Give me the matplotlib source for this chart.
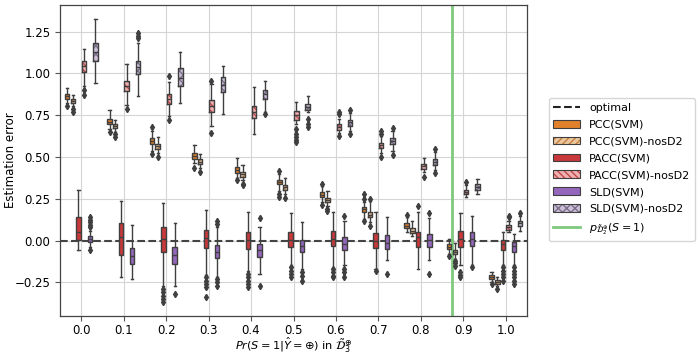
import numpy as np
import matplotlib
matplotlib.use('Agg')
import matplotlib.pyplot as plt
from matplotlib.patches import Patch
from matplotlib.lines import Line2D

x_labels = ['0.0', '0.1', '0.2', '0.3', '0.4', '0.5', '0.6', '0.7', '0.8', '0.9', '1.0']
series_names = ['PCC(SVM)', 'PCC(SVM)-nosD2', 'PACC(SVM)', 'PACC(SVM)-nosD2', 'SLD(SVM)', 'SLD(SVM)-nosD2']
p_true = 0.8735

# --- box statistics per series: median, q1, q3, whisker low, whisker high, fliers
pcc_med = [.863, .712, .595, .506, .423, .351, .274, .189, .089, -.036, -.218]
pcc_q1 = [.849, .699, .576, .490, .407, .338, .258, .173, .076, -.049, -.228]
pcc_q3 = [.877, .730, .613, .524, .440, .363, .288, .202, .105, -.020, -.208]
pcc_lo = [.826, .665, .536, .467, .377, .298, .228, .129, .050, -.079, -.248]
pcc_hi = [.913, .784, .655, .570, .496, .400, .327, .230, .143, .010, -.188]
pcc_fl = [[.807], [.649], [.679, .52], [.437], [.36], [.415, .28, .26], [.34, .21],
          [.278, .248, .12], [.155], [-.09], [-.26]]

pccn_med = [.836, .683, .565, .473, .397, .318, .242, .155, .060, -.067, -.250]
pccn_q1 = [.821, .671, .550, .458, .381, .302, .228, .139, .046, -.081, -.262]
pccn_q3 = [.849, .695, .581, .490, .411, .333, .254, .173, .074, -.054, -.238]
pccn_lo = [.804, .649, .522, .437, .360, .280, .208, .109, .030, -.109, -.270]
pccn_hi = [.873, .724, .619, .520, .450, .373, .298, .238, .119, -.014, -.220]
pccn_fl = [[.79, .77], [.635, .62], [.502], [.411], [.34, .33], [.255], [.19, .18],
           [.25, .09], [], [-.12, -.135, -.15], [-.29]]

pacc_med = [.054, .020, .010, .016, .004, .004, .010, .000, .020, .010, -.020]
pacc_q1 = [.004, -.089, -.069, -.045, -.049, -.036, -.033, -.045, -.039, -.036, -.055]
pacc_q3 = [.139, .104, .083, .065, .050, .050, .060, .044, .050, .060, .004]
pacc_lo = [-.055, -.218, -.270, -.204, -.184, -.150, -.163, -.173, -.169, -.149, -.149]
pacc_hi = [.304, .238, .222, .185, .173, .163, .173, .173, .173, .165, .050]
pacc_fl = [[], [], [-.29, -.31, -.33, -.35, -.367], [-.22, -.24, -.26, -.28, -.34],
           [-.20, -.22, -.24, -.26, -.28], [-.16, -.18, -.20, -.22], [-.17, -.19, -.21, -.22],
           [-.185], [.204], [-.19, -.205, -.22], [-.16, -.18, -.20, -.22, -.24]]

paccn_med = [1.042, .927, .848, .804, .770, .752, .679, .570, .446, .290, .081]
paccn_q1 = [1.008, .897, .818, .768, .735, .724, .661, .552, .430, .277, .065]
paccn_q3 = [1.076, .957, .879, .839, .808, .778, .695, .586, .461, .300, .093]
paccn_lo = [.927, .810, .744, .685, .635, .695, .645, .522, .410, .258, .050]
paccn_hi = [1.147, 1.056, .949, .935, .919, .830, .730, .625, .496, .330, .120]
paccn_fl = [[.90, .87], [.79], [.986, .72], [.953, .641], [], [.665, .64, .62, .60, .59],
            [.755, .77, .625], [.655, .64, .50], [.38], [.35], [.149, .139]]

sld_med = [.010, -.093, -.085, -.069, -.054, -.034, -.020, -.014, .004, .010, -.033]
sld_q1 = [-.006, -.143, -.143, -.105, -.097, -.069, -.054, -.049, -.039, -.033, -.069]
sld_q3 = [.026, -.045, -.036, -.026, -.018, .004, .020, .034, .040, .054, -.006]
sld_lo = [-.040, -.228, -.271, -.218, -.198, -.168, -.149, -.119, -.119, -.149, -.149]
sld_hi = [.060, .093, .104, .080, .083, .113, .119, .143, .133, .145, .040]
sld_fl = [[.08, .095, .11, .125, .139, -.055], [], [-.32], [.10, .115, -.23, -.25, -.27],
          [.133, -.27], [-.19, -.21, -.24], [.147, -.17, -.19, -.22], [-.198],
          [.163, -.198], [-.16], [-.16, -.18, -.20, -.22, -.24, -.26]]

sldn_med = [1.127, 1.036, .973, .933, .875, .800, .707, .598, .473, .321, .105]
sldn_q1 = [1.076, .996, .923, .887, .848, .784, .688, .580, .455, .304, .089]
sldn_q3 = [1.181, 1.077, 1.032, .979, .903, .818, .724, .615, .490, .337, .119]
sldn_lo = [.943, .867, .824, .758, .770, .770, .655, .536, .420, .278, .060]
sldn_hi = [1.326, 1.185, 1.127, 1.042, .957, .863, .764, .655, .530, .371, .149]
sldn_fl = [[], [1.21, 1.225, 1.24], [], [], [.755], [.73, .70, .68], [.78, .64],
           [.675, .515], [.546, .405], [], [.165]]

series_stats = [
    (pcc_med, pcc_q1, pcc_q3, pcc_lo, pcc_hi, pcc_fl),
    (pccn_med, pccn_q1, pccn_q3, pccn_lo, pccn_hi, pccn_fl),
    (pacc_med, pacc_q1, pacc_q3, pacc_lo, pacc_hi, pacc_fl),
    (paccn_med, paccn_q1, paccn_q3, paccn_lo, paccn_hi, paccn_fl),
    (sld_med, sld_q1, sld_q3, sld_lo, sld_hi, sld_fl),
    (sldn_med, sldn_q1, sldn_q3, sldn_lo, sldn_hi, sldn_fl),
]

main_colors = ['#e1812c', '#e1812c', '#c9383a', '#c9383a', '#9467bd', '#9467bd']
light_colors = [None, '#ebc79f', None, '#eeb0b0', None, '#cdbfdb']
hatch_colors = [None, '#c6803f', None, '#c0474a', None, '#7a7085']
hatches = [None, '/////', None, '\\\\\\\\\\', None, 'xxxx']

edge = '#3f3f3f'
plt.rcParams['hatch.linewidth'] = 1.0

fig = plt.figure(figsize=(6.98, 3.56), dpi=100)
ax = fig.add_axes([0.086, 0.113, 0.669, 0.873])

n = len(series_names)
step = 0.8 / n
bw = 0.105
xs = np.arange(len(x_labels))

for i, (med, q1, q3, lo, hi, fl) in enumerate(series_stats):
    pos = xs + (i - (n - 1) / 2) * step
    stats = [dict(med=med[k], q1=q1[k], q3=q3[k], whislo=lo[k], whishi=hi[k],
                  fliers=fl[k]) for k in range(len(x_labels))]
    common = dict(positions=pos, widths=bw, capwidths=bw * 0.5, manage_ticks=False,
                  whiskerprops=dict(color=edge, lw=1.0),
                  capprops=dict(color=edge, lw=1.0),
                  medianprops=dict(color=edge, lw=1.0),
                  flierprops=dict(marker='d', markerfacecolor=edge, markeredgecolor=edge,
                                  markersize=3.2))
    if hatches[i] is None:
        ax.bxp(stats, patch_artist=True,
               boxprops=dict(facecolor=main_colors[i], edgecolor=edge, lw=1.0),
               zorder=3, **common)
    else:
        ax.bxp(stats, patch_artist=True, showcaps=False, showfliers=False,
               positions=pos, widths=bw, manage_ticks=False,
               boxprops=dict(facecolor=light_colors[i], edgecolor=hatch_colors[i],
                             lw=0, hatch=hatches[i]),
               whiskerprops=dict(lw=0), medianprops=dict(lw=0), zorder=3)
        ax.bxp(stats, patch_artist=False,
               boxprops=dict(color=edge, lw=1.0), zorder=3.1, **common)

ax.axhline(0, color='#444444', ls='--', lw=1.5, zorder=2)
ax.axvline(p_true * 10, color='#7fc97f', lw=2.0, zorder=2)

ax.set_xlim(-0.5, len(x_labels) - 0.5)
ax.set_ylim(-0.45, 1.41)
ax.set_xticks(xs)
ax.set_xticklabels(x_labels)
ax.set_yticks([-0.25, 0.0, 0.25, 0.5, 0.75, 1.0, 1.25])
ax.tick_params(labelsize=8.5, color='#555555', length=3.5)
ax.tick_params(axis='x', pad=2.5)
ax.grid(True, color='#d5d5d5', lw=0.8, zorder=0)
ax.set_axisbelow(True)
for s in ax.spines.values():
    s.set_color('#444444')
    s.set_linewidth(0.9)

ax.set_ylabel('Estimation error', fontsize=8.5)
ax.set_xlabel(r'$Pr(S=1|\hat{Y}=\oplus)$ in $\tilde{\mathcal{D}}_3^{\oplus}$', fontsize=8.2)
ax.yaxis.set_label_coords(-0.092, 0.5)
ax.xaxis.set_label_coords(0.5, -0.064)

handles = [Line2D([0], [0], color='#222222', ls='--', lw=1.5)]
for i in range(n):
    if hatches[i] is None:
        handles.append(Patch(facecolor=main_colors[i], edgecolor=edge, lw=0.8))
    else:
        handles.append((Patch(facecolor=light_colors[i], edgecolor=hatch_colors[i], lw=0,
                              hatch=hatches[i]),
                        Patch(facecolor='none', edgecolor=edge, lw=0.8)))
handles.append(Line2D([0], [0], color='#7fc97f', lw=2.0))
labels = ['optimal'] + series_names + [r'$p_{\tilde{\mathcal{D}}_2^{\oplus}}(S=1)$']
ax.legend(handles, labels, loc='center left', bbox_to_anchor=(1.035, 0.47), fontsize=8,
          frameon=True, edgecolor='#cccccc', handlelength=2.4, labelspacing=0.62)

fig.savefig('out.png', dpi=100)
